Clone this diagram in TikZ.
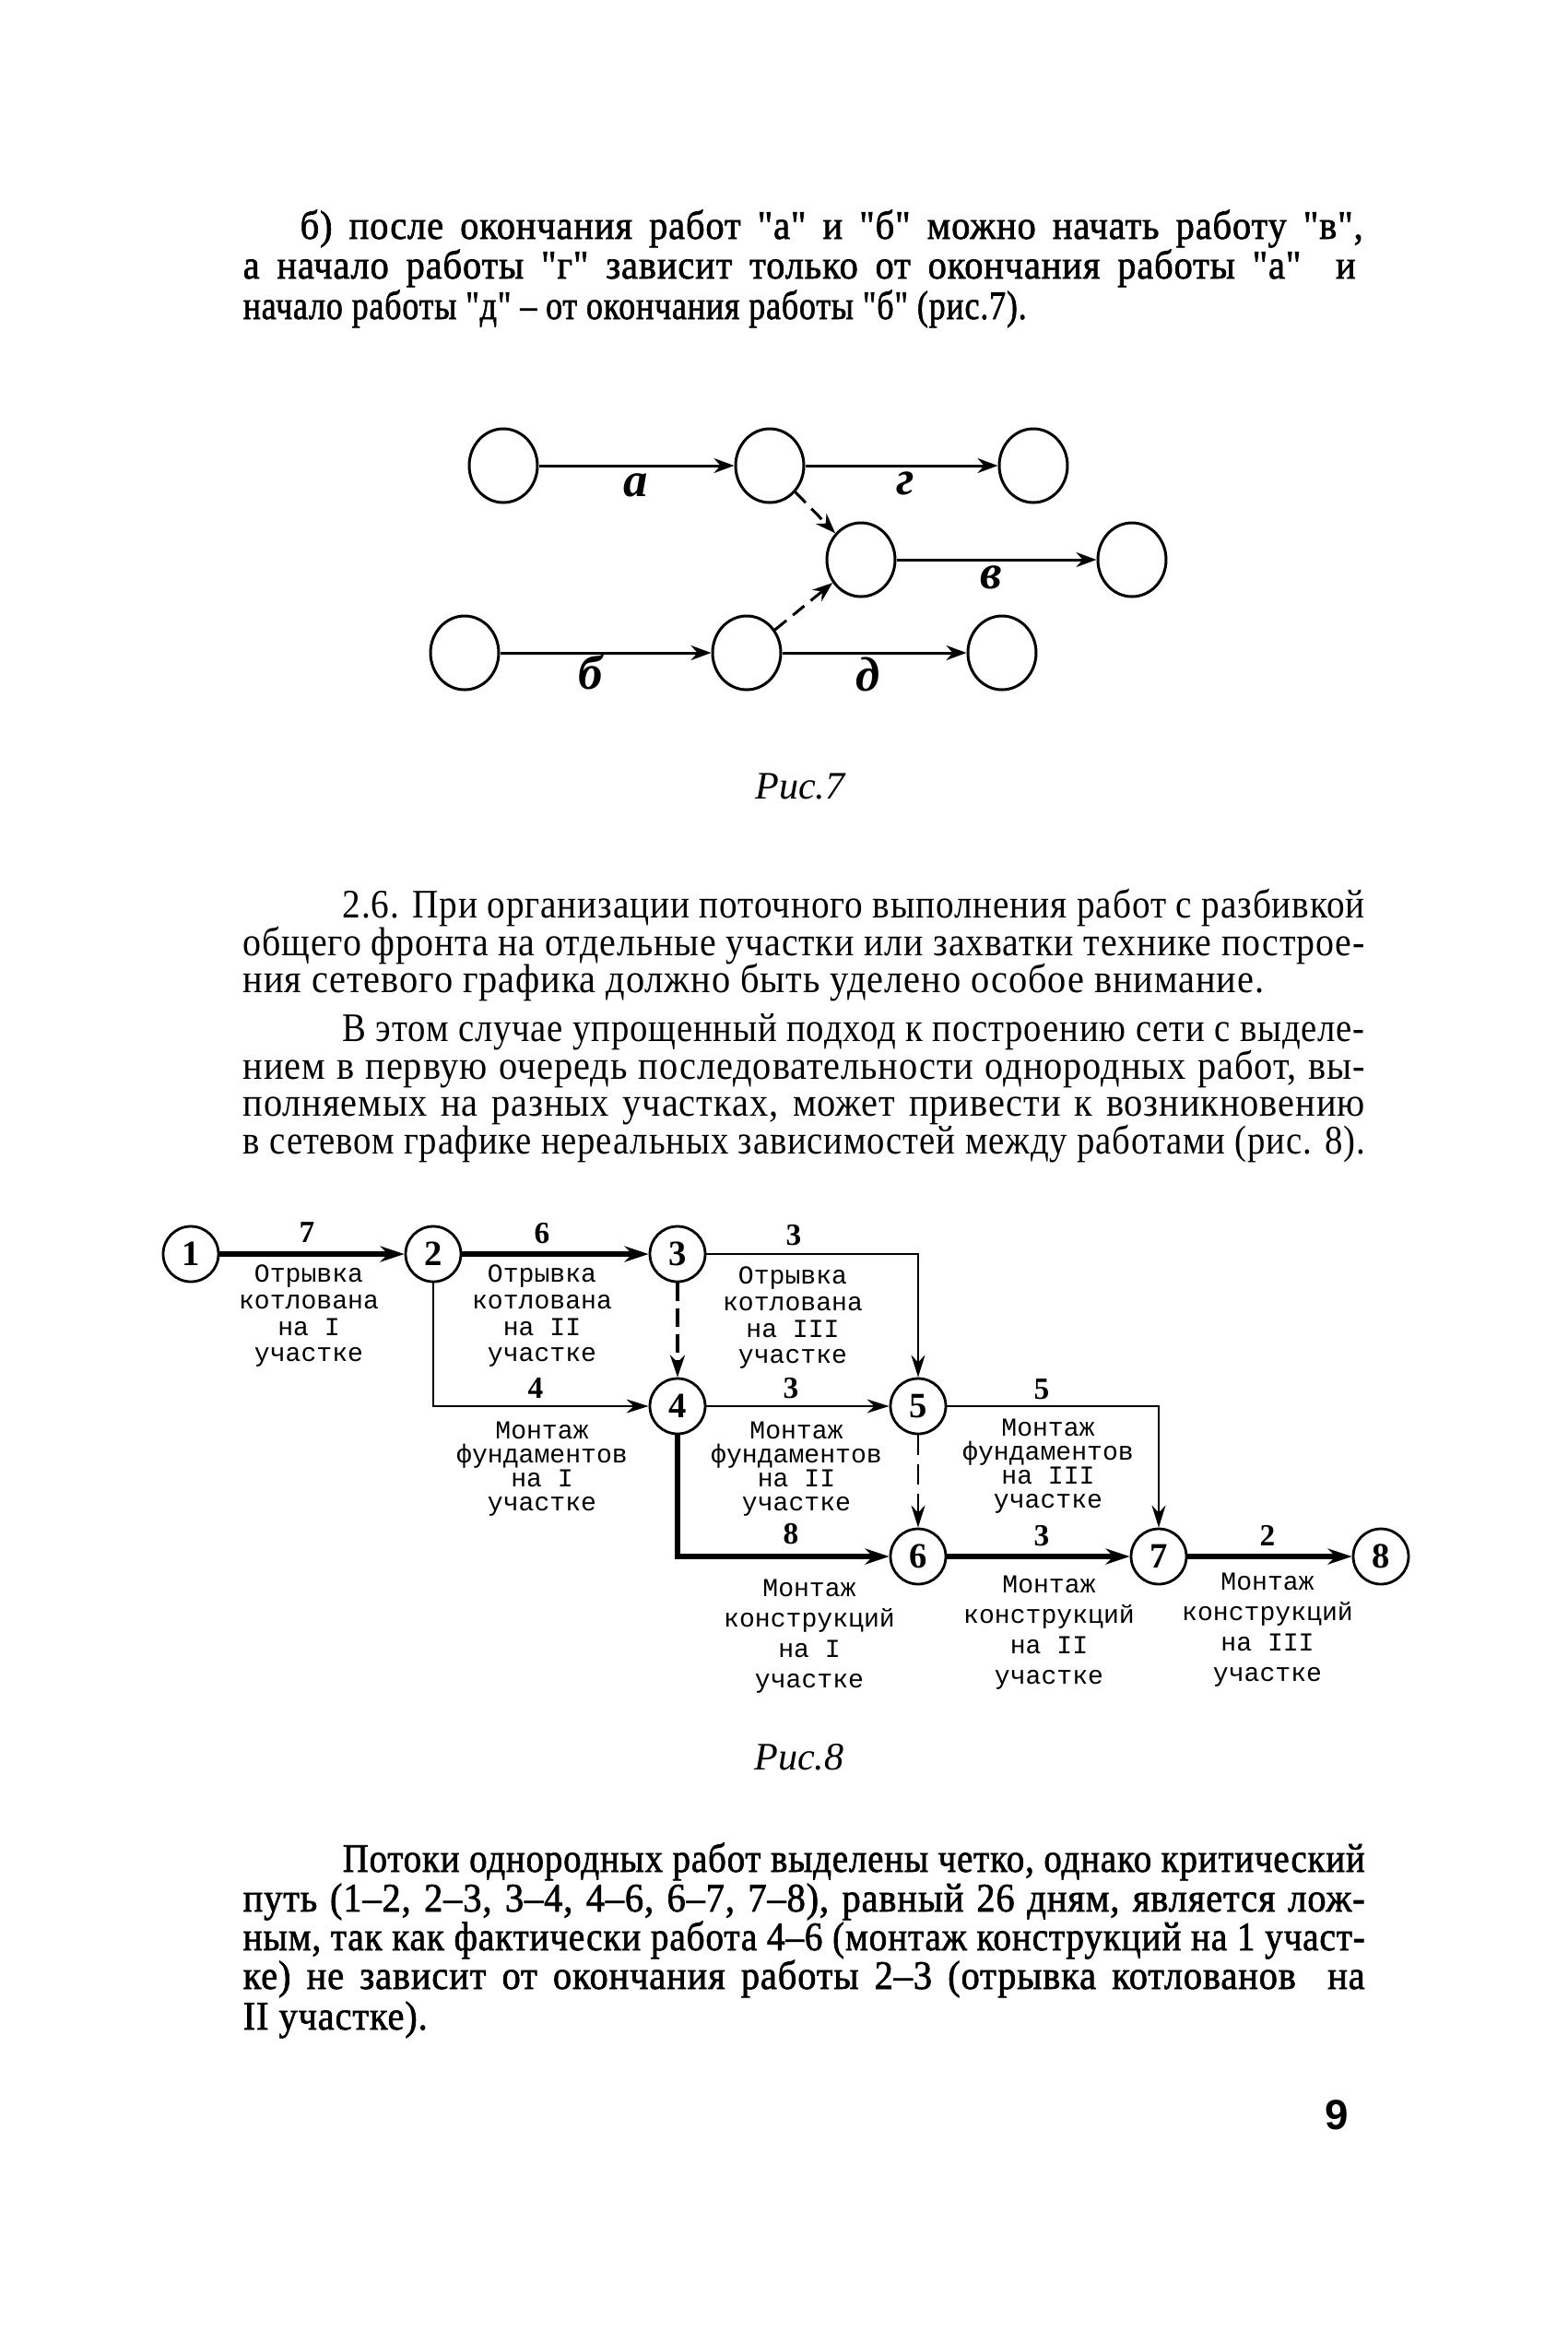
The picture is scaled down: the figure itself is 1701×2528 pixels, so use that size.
\documentclass[tikz,border=0pt]{standalone}
\usepackage{fontspec}
\usepackage{graphicx}
\setmainfont{Liberation Serif}
\newfontfamily\bodyfont{Liberation Serif}[FakeStretch=0.92,LetterSpace=2]
\newfontfamily\heavyfont{Liberation Serif}[FakeBold=1.5,FakeStretch=0.92,LetterSpace=2]
\newfontfamily\lblfont{Liberation Mono}
\newfontfamily\pgnfont{Liberation Sans}
\usetikzlibrary{arrows.meta,shapes.geometric}
\newlength\tlw
\newcommand\fitline[2]{\settowidth\tlw{#2}\ifdim\tlw<#1\makebox[#1][s]{#2}\else\resizebox{#1}{\height}{#2}\fi}
\newcommand\lastfit[2]{\settowidth\tlw{#2}\ifdim\tlw<#1#2\else\resizebox{#1}{\height}{#2}\fi}
\newcommand\tline[5]{\node[txt] (#1) at (#2,#3) {\fitline{#4mm}{#5}};}
\newcommand\hvline[5]{\node[heavytxt] (#1) at (#2,#3) {\fitline{#4mm}{#5}};}
\newcommand\tlast[5]{\node[txt] (#1) at (#2,#3) {\lastfit{#4mm}{#5}};}
\newcommand\hvlast[5]{\node[heavytxt] (#1) at (#2,#3) {\lastfit{#4mm}{#5}};}
\tikzset{
  ev7/.style={ellipse, draw, line width=0.3mm, minimum width=7.4mm, minimum height=8mm, inner sep=0},
  arr7/.style={line width=0.3mm, -{Stealth[length=2.2mm,width=1.6mm]}},
  dum7/.style={arr7, dash pattern=on 1.6mm off 0.9mm},
  lab7/.style={font=\fontsize{15}{15}\selectfont\bfseries\itshape, inner sep=0},
  ev8/.style={circle, draw, line width=0.28mm, minimum size=6mm, inner sep=0, font=\fontsize{11}{11}\selectfont\bfseries},
  crit/.style={line width=0.6mm, -{Stealth[length=2.6mm,width=1.7mm]}},
  work/.style={line width=0.22mm, -{Stealth[length=2.4mm,width=1.5mm]}},
  critdum/.style={line width=0.45mm, dash pattern=on 2mm off 0.8mm, -{Stealth[length=2.4mm,width=1.6mm]}},
  workdum/.style={line width=0.22mm, dash pattern=on 2.2mm off 1mm, -{Stealth[length=2.4mm,width=1.5mm]}},
  num8/.style={font=\fontsize{9.5}{9.5}\selectfont\bfseries, inner sep=0},
  desc/.style={font=\lblfont\fontsize{8}{#1}\selectfont, align=center, inner sep=0, anchor=north},
  txt/.style={anchor=base west, inner sep=0, font=\bodyfont\fontsize{12.5}{14}\selectfont},
  heavytxt/.style={anchor=base west, inner sep=0, font=\heavyfont\fontsize{12.5}{14}\selectfont},
  capt/.style={font=\fontsize{12}{12}\selectfont\itshape, inner sep=0},
}
\begin{document}
\begin{tikzpicture}[x=0.1mm,y=-0.1mm]
\useasboundingbox (0,0) rectangle (1701,2528);

% ---- paragraph 1
\hvline{p1a}{325}{259}{115.3}{б) после окончания работ "а" и "б" можно начать работу "в",}
\hvline{p1b}{263}{302}{120.7}{а начало работы "г" зависит только от окончания работы "а"\ \ и}
\hvlast{p1c}{263}{346}{85.0}{начало работы "д" – от окончания работы "б" (рис.7).}

% ---- figure 7
\node[ev7] (A) at (546,505) {};
\node[ev7] (B) at (835,505) {};
\node[ev7] (C) at (1121,505) {};
\node[ev7] (D) at (934,607) {};
\node[ev7] (E) at (1228,607) {};
\node[ev7] (F) at (504,708) {};
\node[ev7] (G) at (810,708) {};
\node[ev7] (H) at (1087,708) {};
\draw[arr7] (A) -- (B);
\draw[arr7] (B) -- (C);
\draw[arr7] (D) -- (E);
\draw[arr7] (F) -- (G);
\draw[arr7] (G) -- (H);
\draw[dum7] (B) -- (D);
\draw[dum7] (G) -- (D);
\node[lab7] (la) at (690,526) {а};
\node[lab7] (lg) at (982,524) {г};
\node[lab7] (lv) at (1075,626) {в};
\node[lab7] (lb) at (641,729) {б};
\node[lab7] (ld) at (942,731) {д};
\node[capt] (cap7) at (868,853) {Рис.7};

% ---- paragraph 2
\tline{p2a}{371}{995}{110.9}{2.6. При организации поточного выполнения работ с разбивкой}
\tline{p2b}{263}{1036}{121.7}{общего фронта на отдельные участки или захватки технике построе-}
\tlast{p2c}{263}{1076}{116.5}{ния сетевого графика должно быть уделено особое внимание.}
\tline{p2d}{371}{1129}{110.9}{В этом случае упрощенный подход к построению сети с выделе-}
\tline{p2e}{263}{1170}{121.7}{нием в первую очередь последовательности однородных работ, вы-}
\tline{p2f}{263}{1210}{121.7}{полняемых на разных участках, может привести к возникновению}
\tline{p2g}{263}{1251}{121.7}{в сетевом графике нереальных зависимостей между работами (рис. 8).}

% ---- figure 8
\node[ev8] (n1) at (207,1360) {1};
\node[ev8] (n2) at (470,1360) {2};
\node[ev8] (n3) at (735,1360) {3};
\node[ev8] (n4) at (735,1525) {4};
\node[ev8] (n5) at (996,1525) {5};
\node[ev8] (n6) at (996,1688) {6};
\node[ev8] (n7) at (1257,1688) {7};
\node[ev8] (n8) at (1498,1688) {8};
\draw[crit] (n1) -- (n2);
\draw[crit] (n2) -- (n3);
\draw[work] (n3.east) -| (n5.north);
\draw[work] (n2.south) |- (n4.west);
\draw[critdum] (n3) -- (n4);
\draw[work] (n4) -- (n5);
\draw[work] (n5.east) -| (n7.north);
\draw[workdum] (n5) -- (n6);
\draw[crit] (n4.south) |- (n6.west);
\draw[crit] (n6) -- (n7);
\draw[crit] (n7) -- (n8);

\node[num8] (t12) at (333,1337) {7};
\node[num8] (t23) at (588,1338) {6};
\node[num8] (t35) at (861,1340) {3};
\node[num8] (t24) at (581,1505) {4};
\node[num8] (t45) at (858,1506) {3};
\node[num8] (t57) at (1130,1507) {5};
\node[num8] (t46) at (858,1664) {8};
\node[num8] (t67) at (1130,1666) {3};
\node[num8] (t78) at (1375,1665) {2};

\node[desc=8.2pt] (d12) at (335,1371) {Отрывка\\котлована\\на I\\участке};
\node[desc=8.2pt] (d23) at (588,1371) {Отрывка\\котлована\\на II\\участке};
\node[desc=8.2pt] (d35) at (860,1373) {Отрывка\\котлована\\на III\\участке};
\node[desc=7.4pt] (d24) at (588,1541) {Монтаж\\фундаментов\\на I\\участке};
\node[desc=7.4pt] (d45) at (864,1541) {Монтаж\\фундаментов\\на II\\участке};
\node[desc=7.4pt] (d57) at (1137,1538) {Монтаж\\фундаментов\\на III\\участке};
\node[desc=9.4pt] (d46) at (878,1712) {Монтаж\\конструкций\\на I\\участке};
\node[desc=9.4pt] (d67) at (1138,1708) {Монтаж\\конструкций\\на II\\участке};
\node[desc=9.4pt] (d78) at (1375,1705) {Монтаж\\конструкций\\на III\\участке};
\node[capt] (cap8) at (867,1906) {Рис.8};

% ---- paragraph 3
\hvline{p3a}{371}{2030}{110.9}{Потоки однородных работ выделены четко, однако критический}
\hvline{p3b}{263}{2073}{121.7}{путь (1–2, 2–3, 3–4, 4–6, 6–7, 7–8), равный 26 дням, является лож-}
\hvline{p3c}{263}{2115}{121.7}{ным, так как фактически работа 4–6 (монтаж конструкций на 1 участ-}
\hvline{p3d}{263}{2157}{121.7}{ке) не зависит от окончания работы 2–3 (отрывка котлованов\ \ на}
\hvlast{p3e}{263}{2201}{22.4}{II участке).}

\node[font=\pgnfont\bfseries\fontsize{13}{13}\selectfont, inner sep=0] (pg) at (1450,2294) {9};
\end{tikzpicture}
\end{document}
